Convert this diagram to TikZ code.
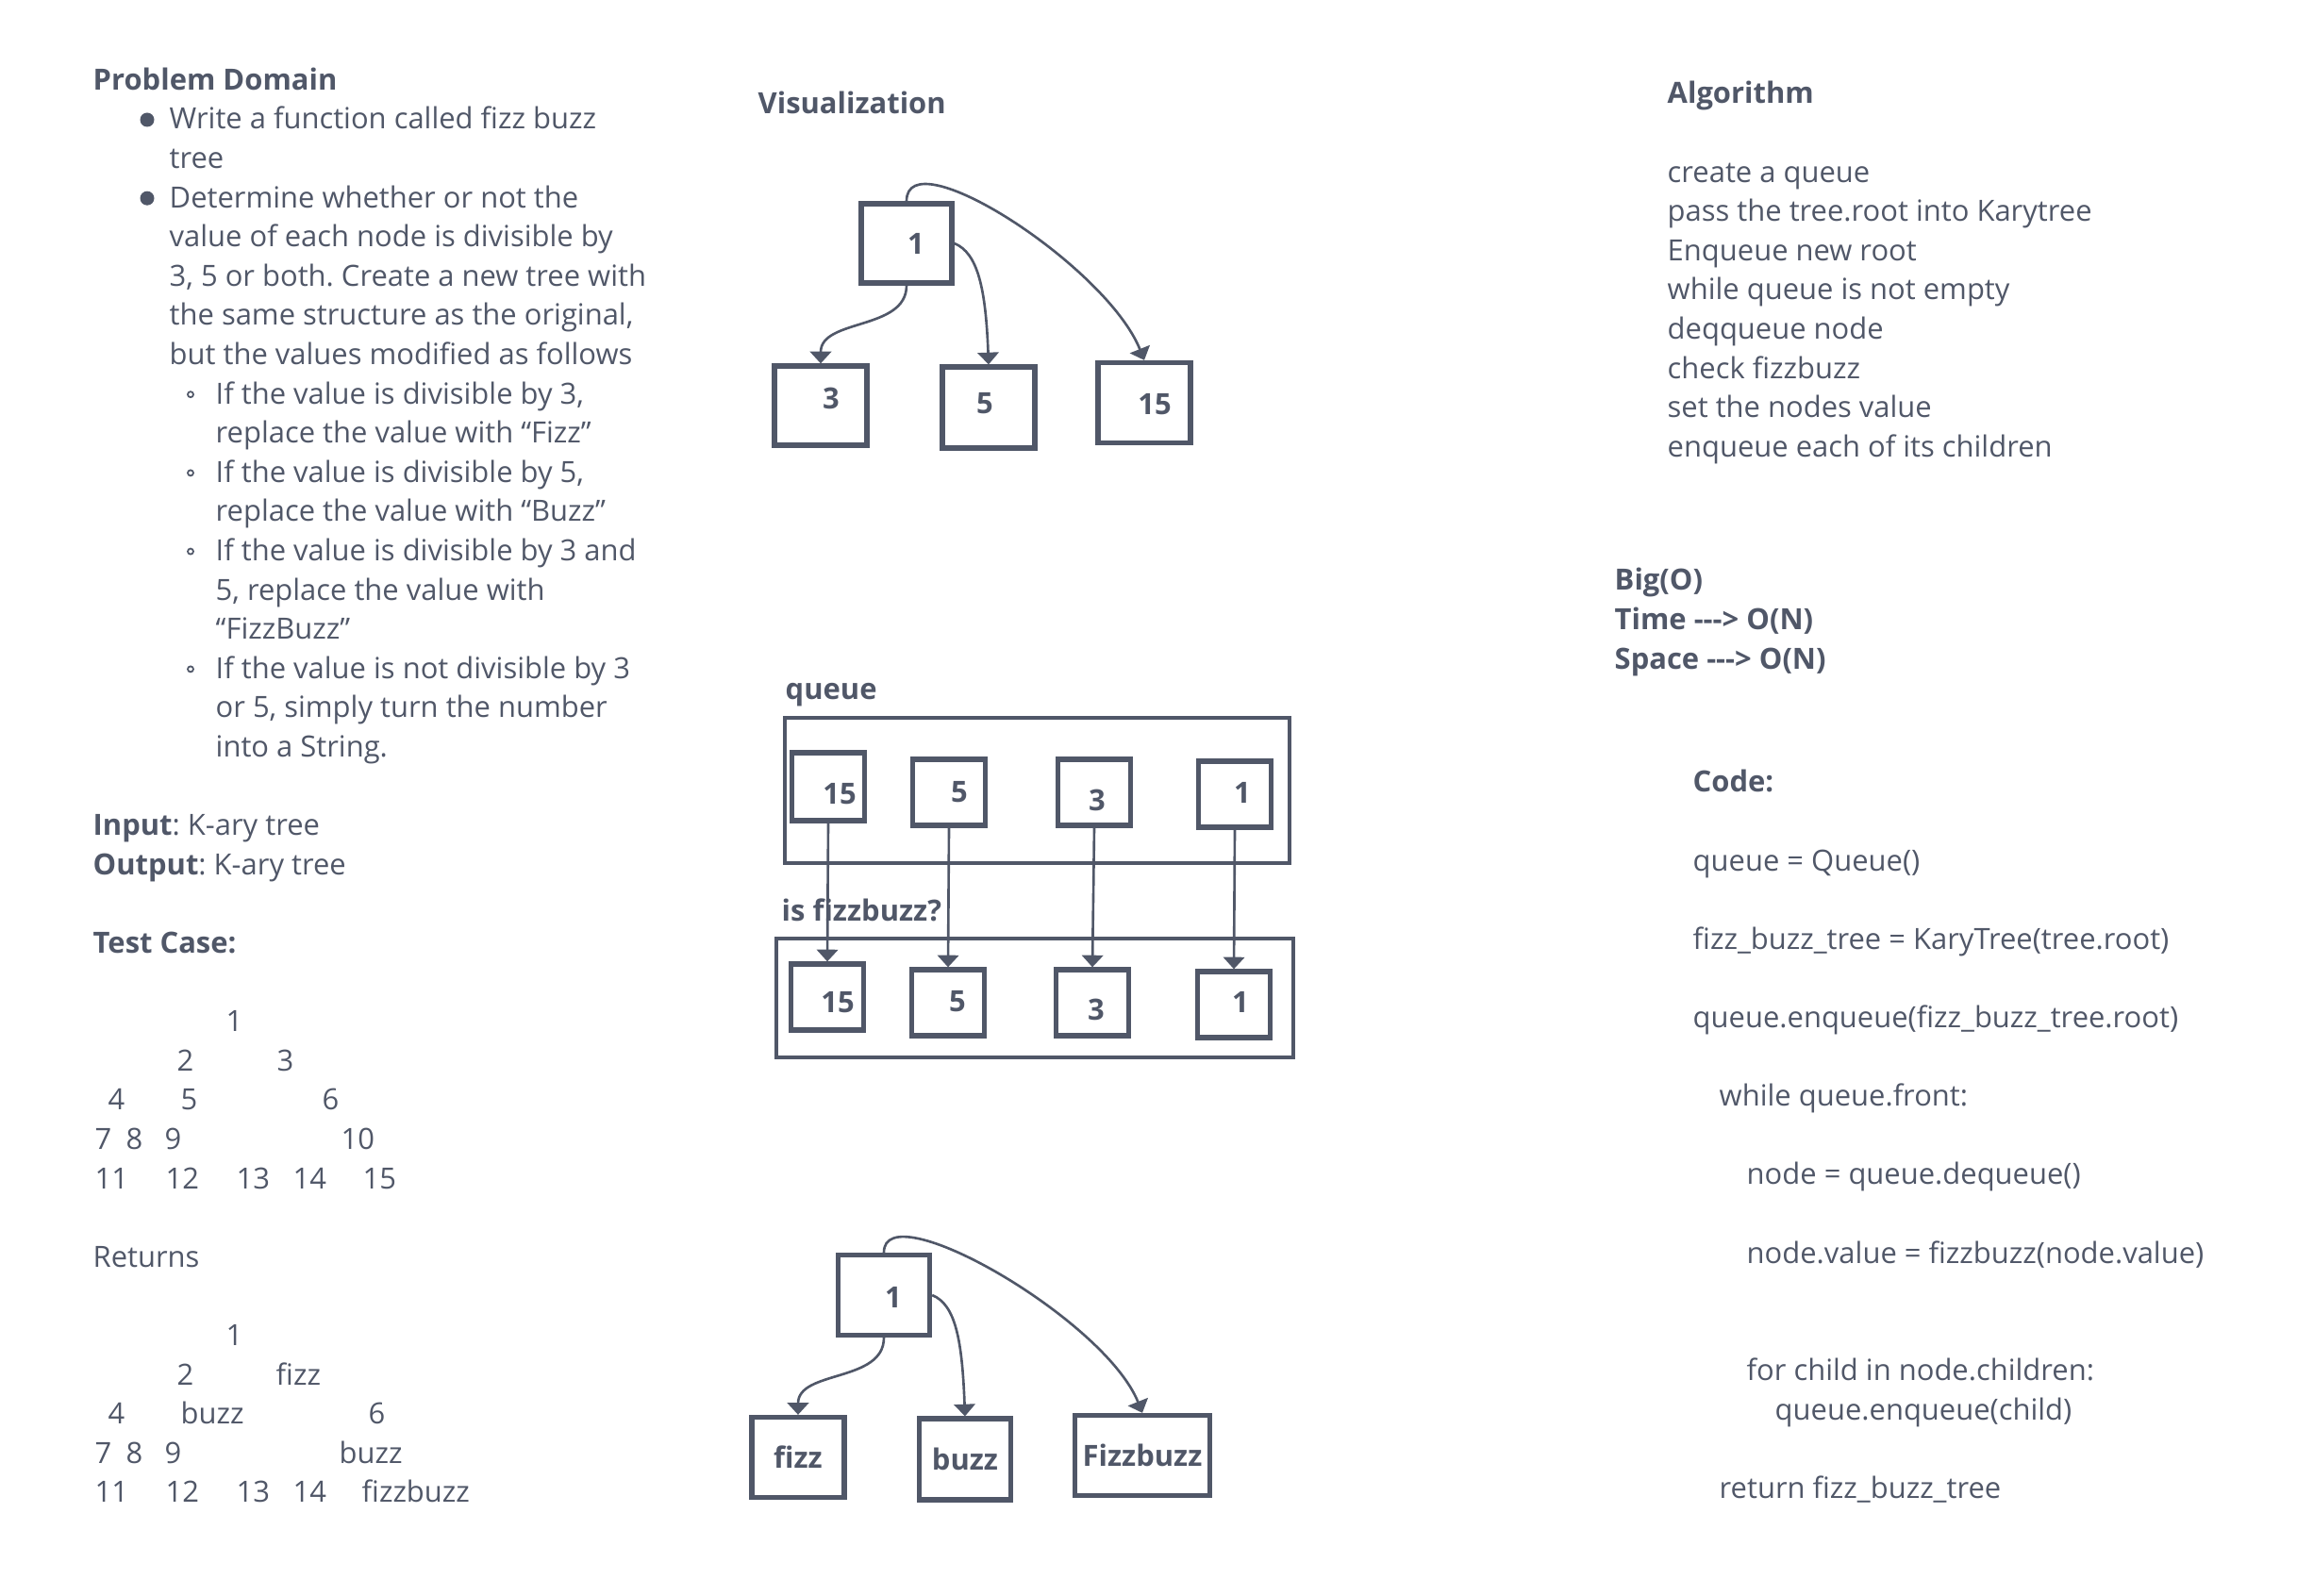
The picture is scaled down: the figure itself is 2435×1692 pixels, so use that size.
\documentclass[tikz,border=0pt]{standalone}
\usepackage{fontspec}
\setmainfont{Open Sans}
\usetikzlibrary{arrows.meta}
\frenchspacing

\definecolor{ink}{RGB}{80,87,104}

\newdimen\pxu
\pxu=0.01cm
\def\rowskip{41.6}
\def\leftbase{137}
\def\algbase{110}
\def\codebase{840}

\tikzset{
  txt/.style={anchor=base west, inner sep=0pt, text=ink, font=\fontsize{8.8}{11}\selectfont},
  head/.style={txt, font=\fontsize{8.8}{11}\selectfont\bfseries},
  valbox/.style={draw=ink, line width=1.5pt, inner sep=0pt},
  vallabel/.style={inner sep=0pt, text=ink, font=\fontsize{8.8}{11}\selectfont\bfseries},
  frame/.style={draw=ink, line width=1.3pt, inner sep=0pt},
  link/.style={draw=ink, line width=0.75pt, -{Triangle[width=6.4pt,length=3.6pt]}},
}

\newcommand{\trow}[6][txt]{
  \node[#1] (#2) at ({#3},{-(#4+(#5)*\rowskip)}) {#6};
}
\newcommand{\valnode}[7][0,0]{
  \node[valbox, minimum width=#5\pxu, minimum height=#6\pxu] (#2) at (#3,-#4) {};
  \node[vallabel] (#2-t) at ([shift={(#1)}]#2.center) {#7};
}
\newcommand{\bul}[2]{
  \fill[ink] ({#1},{-(\leftbase+(#2)*\rowskip)+10}) circle (7.5);
}
\newcommand{\subbul}[2]{
  \draw[ink, line width=0.5pt] ({#1},{-(\leftbase+(#2)*\rowskip)+10}) circle (3);
}

\begin{document}
\begin{tikzpicture}[x=0.01cm, y=0.01cm]
  \useasboundingbox (0,0) rectangle (2435,-1692);

  \trow[head]{pd}{98}{\leftbase}{-1}{Problem Domain}
  \bul{156}{0}
  \trow{pd0}{179}{\leftbase}{0}{Write a function called fizz buzz}
  \trow{pd1}{179}{\leftbase}{1}{tree}
  \bul{156}{2}
  \trow{pd2}{179}{\leftbase}{2}{Determine whether or not the}
  \trow{pd3}{179}{\leftbase}{3}{value of each node is divisible by}
  \trow{pd4}{179}{\leftbase}{4}{3, 5 or both. Create a new tree with}
  \trow{pd5}{179}{\leftbase}{5}{the same structure as the original,}
  \trow{pd6}{179}{\leftbase}{6}{but the values modified as follows}
  \subbul{202}{7}
  \trow{pd7}{228}{\leftbase}{7}{If the value is divisible by 3,}
  \trow{pd8}{228}{\leftbase}{8}{replace the value with “Fizz”}
  \subbul{202}{9}
  \trow{pd9}{228}{\leftbase}{9}{If the value is divisible by 5,}
  \trow{pd10}{228}{\leftbase}{10}{replace the value with “Buzz”}
  \subbul{202}{11}
  \trow{pd11}{228}{\leftbase}{11}{If the value is divisible by 3 and}
  \trow{pd12}{228}{\leftbase}{12}{5, replace the value with}
  \trow{pd13}{228}{\leftbase}{13}{“FizzBuzz”}
  \subbul{202}{14}
  \trow{pd14}{228}{\leftbase}{14}{If the value is not divisible by 3}
  \trow{pd15}{228}{\leftbase}{15}{or 5, simply turn the number}
  \trow{pd16}{228}{\leftbase}{16}{into a String.}

  \trow{inp}{98}{\leftbase}{18}{\textbf{Input}: K-ary tree}
  \trow{outp}{98}{\leftbase}{19}{\textbf{Output}: K-ary tree}
  \trow[head]{tc}{98}{\leftbase}{21}{Test Case:}

  \trow{t1}{239}{\leftbase}{23}{1}
  \trow{t2}{187}{\leftbase}{24}{2}   \trow{t3}{293}{\leftbase}{24}{3}
  \trow{t4}{114}{\leftbase}{25}{4}   \trow{t5}{191}{\leftbase}{25}{5}   \trow{t6}{341}{\leftbase}{25}{6}
  \trow{t7}{100}{\leftbase}{26}{7}   \trow{t8}{133}{\leftbase}{26}{8}   \trow{t9}{174}{\leftbase}{26}{9}
  \trow{t10}{361}{\leftbase}{26}{10}
  \trow{t11}{100}{\leftbase}{27}{11} \trow{t12}{175}{\leftbase}{27}{12} \trow{t13}{250}{\leftbase}{27}{13}
  \trow{t14}{310}{\leftbase}{27}{14} \trow{t15}{384}{\leftbase}{27}{15}

  \trow{ret}{98}{\leftbase}{29}{Returns}

  \trow{s1}{239}{\leftbase}{31}{1}
  \trow{s2}{187}{\leftbase}{32}{2}   \trow{s3}{292}{\leftbase}{32}{fizz}
  \trow{s4}{114}{\leftbase}{33}{4}   \trow{s5}{191}{\leftbase}{33}{buzz} \trow{s6}{390}{\leftbase}{33}{6}
  \trow{s7}{100}{\leftbase}{34}{7}   \trow{s8}{133}{\leftbase}{34}{8}   \trow{s9}{174}{\leftbase}{34}{9}
  \trow{s10}{359}{\leftbase}{34}{buzz}
  \trow{s11}{100}{\leftbase}{35}{11} \trow{s12}{175}{\leftbase}{35}{12} \trow{s13}{250}{\leftbase}{35}{13}
  \trow{s14}{310}{\leftbase}{35}{14} \trow{s15}{383}{\leftbase}{35}{fizzbuzz}

  \node[head] (vis) at (803,-121) {Visualization};
  \valnode[10,0]{r1}{961}{258}{96}{84}{1}
  \valnode[11,8]{r1a}{870}{430}{98}{84}{3}
  \valnode[-4,4]{r1b}{1048}{432}{98}{86}{5}
  \valnode[11,-2]{r1c}{1213}{427}{98}{85}{15}
  \draw[link] (r1.south) to[out=-90,in=90] (r1a.north);
  \draw[link] (r1.east) .. controls +(25,-10) and +(-3,80) .. (r1b.north);
  \draw[link] (r1.north) .. controls +(0,68) and +(-40,100) .. (r1c.north);

  \node[head] (qlabel) at (832,-742) {queue};
  \node[frame, minimum width=535\pxu, minimum height=154\pxu] (qtop) at (1099.5,-838) {};
  \valnode[12,-8]{q15}{878}{834}{77}{72}{15}
  \valnode[11,0]{q5}{1006}{840}{77}{70}{5}
  \valnode[3,-8]{q3}{1160}{840}{77}{70}{3}
  \valnode[8,2]{q1}{1309}{842}{77}{70}{1}

  \node[head] (fblabel) at (828,-977) {is fizzbuzz?};
  \node[frame, minimum width=548\pxu, minimum height=126\pxu] (qlow) at (1097,-1058) {};
  \valnode[11,-6]{f15}{877}{1057}{77}{70}{15}
  \valnode[10,1]{f5}{1005}{1063}{77}{70}{5}
  \valnode[4,-7]{f3}{1158}{1063}{77}{70}{3}
  \valnode[7,3]{f1}{1308}{1065}{77}{70}{1}
  \draw[link] (q15.south) -- (f15.north);
  \draw[link] (q5.south) -- (f5.north);
  \draw[link] (q3.south) -- (f3.north);
  \draw[link] (q1.south) -- (f1.north);

  \valnode[10,-2]{r2}{937}{1373}{97}{85}{1}
  \valnode{r2a}{846}{1545}{98}{85}{fizz}
  \valnode{r2b}{1023}{1547}{97}{86}{buzz}
  \valnode{r2c}{1211}{1543}{143}{85}{Fizzbuzz}
  \draw[link] (r2.south) to[out=-90,in=90] (r2a.north);
  \draw[link] (r2.east) .. controls +(25,-10) and +(-3,80) .. (r2b.north);
  \draw[link] (r2.north) .. controls +(0,64) and +(-40,100) .. (r2c.north);

  \trow[head]{alg}{1767}{\algbase}{0}{Algorithm}
  \trow{alg1}{1767}{\algbase}{2}{create a queue}
  \trow{alg2}{1767}{\algbase}{3}{pass the tree.root into Karytree}
  \trow{alg3}{1767}{\algbase}{4}{Enqueue new root}
  \trow{alg4}{1767}{\algbase}{5}{while queue is not empty}
  \trow{alg5}{1767}{\algbase}{6}{deqqueue node}
  \trow{alg6}{1767}{\algbase}{7}{check fizzbuzz}
  \trow{alg7}{1767}{\algbase}{8}{set the nodes value}
  \trow{alg8}{1767}{\algbase}{9}{enqueue each of its children}

  \trow[head]{bigo}{1711}{\algbase}{12.4}{Big(O)}
  \trow[head]{time}{1711}{\algbase}{13.4}{Time -{}-{}-> O(N)}
  \trow[head]{space}{1711}{\algbase}{14.4}{Space -{}-{}-> O(N)}

  \trow[head]{code}{1794}{\codebase}{0}{Code:}
  \trow{c1}{1794}{\codebase}{2}{queue = Queue()}
  \trow{c2}{1794}{\codebase}{4}{fizz\_buzz\_tree = KaryTree(tree.root)}
  \trow{c3}{1794}{\codebase}{6}{queue.enqueue(fizz\_buzz\_tree.root)}
  \trow{c4}{1822}{\codebase}{8}{while queue.front:}
  \trow{c5}{1851}{\codebase}{10}{node = queue.dequeue()}
  \trow{c6}{1851}{\codebase}{12}{node.value = fizzbuzz(node.value)}
  \trow{c7}{1851}{\codebase}{15}{for child in node.children:}
  \trow{c8}{1881}{\codebase}{16}{queue.enqueue(child)}
  \trow{c9}{1822}{\codebase}{18}{return fizz\_buzz\_tree}
\end{tikzpicture}
\end{document}
